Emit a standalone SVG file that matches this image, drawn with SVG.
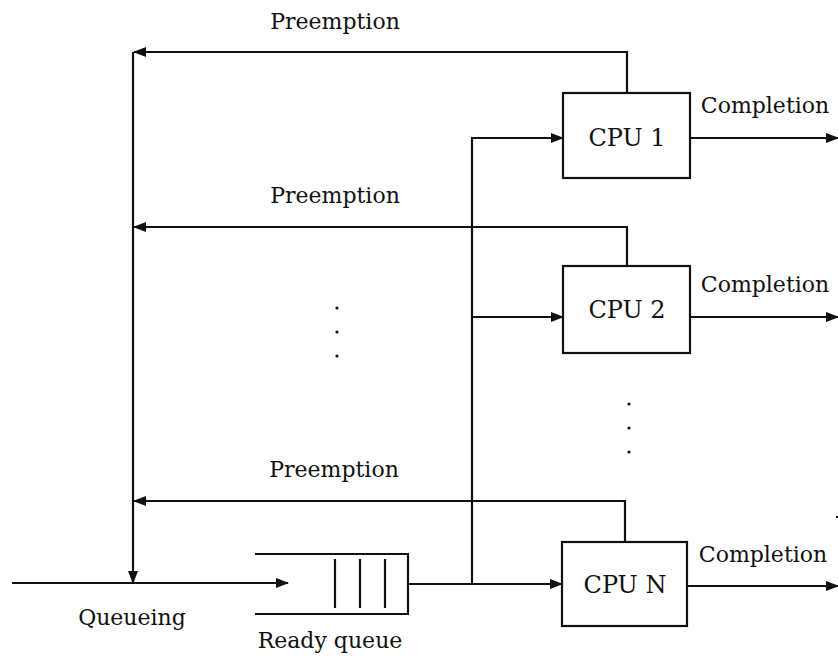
<svg xmlns="http://www.w3.org/2000/svg" width="838" height="656" viewBox="0 0 838 656">
<style>
.ln{fill:none;stroke:#111;stroke-width:2.2}
.bx{fill:#fff;stroke:#111;stroke-width:2.2}
text{font-family:"DejaVu Serif","Liberation Serif",serif;font-size:22px;fill:#111}
.c{text-anchor:middle}
.cpu{font-size:24px}
</style>
<defs>
<marker id="ah" viewBox="0 0 13 10" refX="12" refY="5" markerWidth="13" markerHeight="10" markerUnits="userSpaceOnUse" orient="auto">
<path d="M0,0 L13,5 L0,10 Z" fill="#111"/>
</marker>
</defs>
<rect width="838" height="656" fill="#fff"/>
<g id="connectors">
<path class="ln" d="M627,93 V52 H134" marker-end="url(#ah)"/>
<path class="ln" d="M627,266 V227 H134" marker-end="url(#ah)"/>
<path class="ln" d="M625,542 V501 H134" marker-end="url(#ah)"/>
<path class="ln" d="M133,52 V583" marker-end="url(#ah)"/>
<path class="ln" d="M12,583 H288" marker-end="url(#ah)"/>
<path class="ln" d="M408,584 H562" marker-end="url(#ah)"/>
<path class="ln" d="M472,584 V138 H563" marker-end="url(#ah)"/>
<path class="ln" d="M472,317 H563" marker-end="url(#ah)"/>
<path class="ln" d="M690,138 H838" marker-end="url(#ah)"/>
<path class="ln" d="M690,317 H838" marker-end="url(#ah)"/>
<path class="ln" d="M687,586 H838" marker-end="url(#ah)"/>
</g>
<g id="ready-queue">
<path class="ln" d="M255,554 H408 V614 H255"/>
<path class="ln" d="M335,559 V608 M360,559 V608 M385,559 V608"/>
<text x="330" y="648" class="c">Ready queue</text>
</g>
<g id="cpu1">
<rect class="bx" x="563" y="93" width="127" height="85"/>
<text x="627" y="146" class="c cpu">CPU 1</text>
</g>
<g id="cpu2">
<rect class="bx" x="563" y="266" width="127" height="87"/>
<text x="627" y="318" class="c cpu">CPU 2</text>
</g>
<g id="cpuN">
<rect class="bx" x="562" y="542" width="125" height="84"/>
<text x="625" y="593" class="c cpu">CPU N</text>
</g>
<g id="labels">
<text x="335" y="29" class="c">Preemption</text>
<text x="335" y="203" class="c">Preemption</text>
<text x="334" y="477" class="c">Preemption</text>
<text x="765" y="113" class="c">Completion</text>
<text x="765" y="292" class="c">Completion</text>
<text x="763" y="562" class="c">Completion</text>
<text x="132" y="625" class="c">Queueing</text>
</g>
<g id="dots" fill="#111">
<circle cx="337" cy="308" r="1.6"/>
<circle cx="337" cy="332" r="1.6"/>
<circle cx="337" cy="356" r="1.6"/>
<circle cx="629" cy="404" r="1.6"/>
<circle cx="629" cy="428" r="1.6"/>
<circle cx="629" cy="452" r="1.6"/>
<rect x="836" y="516" width="2" height="2"/>
</g>
</svg>
